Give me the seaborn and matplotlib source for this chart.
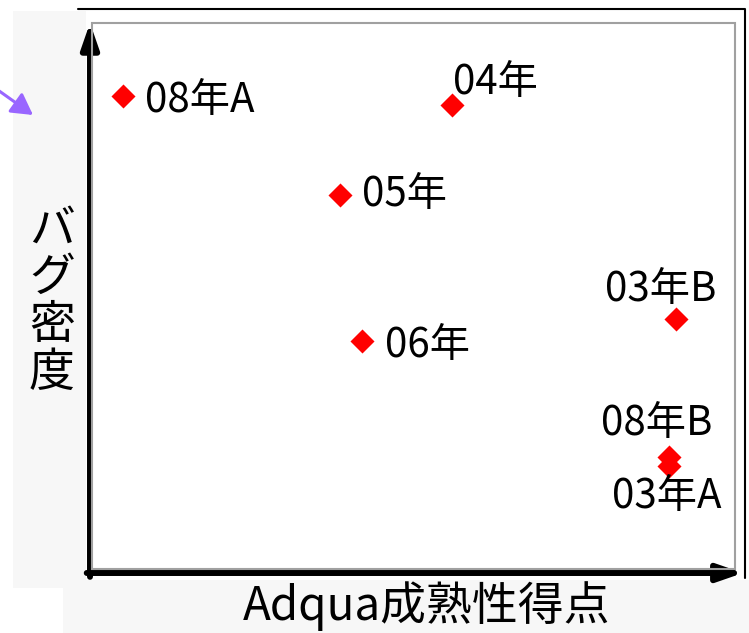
import matplotlib
matplotlib.use("Agg")
import matplotlib.pyplot as plt
import seaborn as sns
import pandas as pd
from matplotlib.patches import Rectangle, FancyArrowPatch
from matplotlib.lines import Line2D

# Project versions and their scores
labels = ["08年A", "04年", "05年", "06年", "03年B", "08年B", "03年A"]
maturity = [0.50, 5.54, 3.83, 4.17, 8.97, 8.87, 8.87]      # Adqua maturity score
bug_density = [8.70, 8.54, 6.90, 4.23, 4.64, 2.12, 1.95]   # bug density

# label placement relative to each marker (points) and alignment
label_offsets = [(16, -3), (1, 16), (16, 0), (16, -3), (-11, 21), (-9, 24), (-2, -22)]
label_align = ["left", "left", "left", "left", "center", "center", "center"]

W, H = 749, 633

sns.set_theme(style="white")
plt.rcParams["font.family"] = ["Noto Sans CJK JP", "DejaVu Sans"]

df = pd.DataFrame({"label": labels, "x": maturity, "y": bug_density})

fig = plt.figure(figsize=(W / 100, H / 100), dpi=100)
fig.patch.set_facecolor("white")


def fx(px):
    return px / W


def fy(py):
    return 1 - py / H


# light grey panels behind the axis titles
fig.add_artist(Rectangle((fx(13), fy(588)), fx(86) - fx(13), fy(11) - fy(588),
                         transform=fig.transFigure, facecolor="#f7f7f7", edgecolor="none", zorder=0))
fig.add_artist(Rectangle((fx(63), fy(633)), fx(749) - fx(63), fy(580) - fy(633),
                         transform=fig.transFigure, facecolor="#f7f7f7", edgecolor="none", zorder=0))

# outer frame (top and right) and inner grey box
fig.add_artist(Line2D([fx(78), fx(745), fx(745)], [fy(9), fy(9), fy(578)],
                      transform=fig.transFigure, color="black", lw=1.5, zorder=1))
fig.add_artist(Rectangle((fx(92), fy(569)), fx(735) - fx(92), fy(23) - fy(569),
                         transform=fig.transFigure, facecolor="none", edgecolor="#a0a0a0",
                         lw=1.5, zorder=1))

ax = fig.add_axes([fx(90), fy(573), fx(743) - fx(90), fy(25) - fy(573)])
ax.set_facecolor("none")
ax.set_xlim(0, 10)
ax.set_ylim(0, 10)

sns.scatterplot(data=df, x="x", y="y", marker="D", s=150, color="#ff0000",
                linewidth=0, ax=ax, zorder=5, clip_on=False)

for (lab, x, y), (dx, dy), ha in zip(zip(labels, maturity, bug_density), label_offsets, label_align):
    ax.annotate(lab, (x, y), xytext=(dx, dy), textcoords="offset points",
                ha=ha, va="center", fontsize=29, color="black", zorder=6)

for s in ax.spines.values():
    s.set_visible(False)
ax.set_xticks([])
ax.set_yticks([])

# axes drawn as thick arrows
arrow_kw = dict(arrowstyle="-|>,head_length=0.75,head_width=0.26", mutation_scale=20,
                lw=4.3, color="black", shrinkA=0, shrinkB=0)
ax.annotate("", xy=(1.0, 0.0), xytext=(-0.005, 0.0), xycoords="axes fraction",
            textcoords="axes fraction", arrowprops=arrow_kw, annotation_clip=False)
ax.annotate("", xy=(0.0, 1.004), xytext=(0.0, -0.007), xycoords="axes fraction",
            textcoords="axes fraction", arrowprops=arrow_kw, annotation_clip=False)

ax.set_xlabel("Adqua成熟性得点", fontsize=33, color="black")
ax.xaxis.set_label_coords((427 - 90) / 653, (573 - 606) / 548)
ax.xaxis.label.set_va("center")
ax.set_ylabel("\n".join("バグ密度"), fontsize=33, color="black", rotation=0,
              linespacing=0.98)
ax.yaxis.set_label_coords((52 - 90) / 653, (573 - 301) / 548)
ax.yaxis.label.set_va("center")
ax.yaxis.label.set_ha("center")

# purple pointer on the left edge
fig.add_artist(FancyArrowPatch((fx(-5), fy(88)), (fx(33), fy(115)), transform=fig.transFigure,
                               arrowstyle="-|>,head_length=0.8,head_width=0.45", mutation_scale=16,
                               lw=2.2, color="#9966ff", shrinkA=0, shrinkB=0))

fig.savefig("out.png", dpi=100)
